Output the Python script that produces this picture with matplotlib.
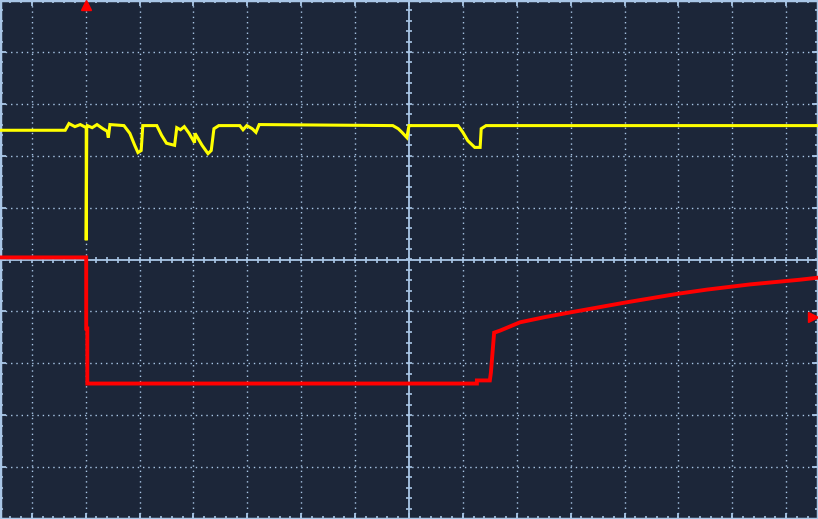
import numpy as np
import matplotlib
matplotlib.use("Agg")
import matplotlib.pyplot as plt

# screen units: divisions (x: time/div, y: volts/div), centre of screen = (0, 0)
ch1_t = [-7.59, -6.38, -6.31, -6.20, -6.10, -5.99, -5.99, -5.98, -5.97, -5.88, -5.79, -5.68,
         -5.60, -5.58, -5.55, -5.29, -5.18, -5.09, -5.03, -4.97, -4.94, -4.68, -4.59, -4.50,
         -4.35, -4.31, -4.24, -4.17, -4.08, -3.98, -3.97, -3.84, -3.73, -3.67, -3.62, -3.53,
         -3.14, -3.08, -3.01, -2.91, -2.84, -2.78, -0.30, -0.20, -0.13, -0.04, 0.00, 0.91,
         1.00, 1.09, 1.22, 1.32, 1.34, 1.43, 7.59]
ch1_v = [2.49, 2.49, 2.62, 2.56, 2.60, 2.54, 0.37, 2.54, 2.58, 2.54, 2.60, 2.52,
         2.47, 2.35, 2.60, 2.58, 2.43, 2.20, 2.06, 2.10, 2.58, 2.58, 2.39, 2.24,
         2.20, 2.54, 2.50, 2.56, 2.43, 2.25, 2.43, 2.20, 2.04, 2.10, 2.52, 2.58,
         2.58, 2.50, 2.58, 2.52, 2.45, 2.60, 2.58, 2.52, 2.45, 2.35, 2.58, 2.58,
         2.45, 2.29, 2.16, 2.16, 2.52, 2.58, 2.58]

ch2_t = [-7.59, -5.99, -5.99, -5.97, -5.97, 1.26, 1.26, 1.50, 1.52, 1.58, 1.69, 2.06,
         2.52, 2.99, 4.01, 4.99, 5.53, 6.33, 7.25, 7.59]
ch2_v = [0.04, 0.04, -1.33, -1.33, -2.39, -2.39, -2.33, -2.33, -2.18, -1.41, -1.37, -1.21,
         -1.11, -1.02, -0.83, -0.66, -0.58, -0.48, -0.39, -0.35]

trig_pos = -5.99
trig_level = -1.10

bg = "#1c2639"
gc = "#a9c6e6"
xmax = 7.59

fig = plt.figure(figsize=(8.18, 5.19), dpi=100)
fig.patch.set_facecolor(bg)
ax = fig.add_axes([0, 0, 1, 1])
ax.set_facecolor(bg)
ax.set_xlim(-xmax, xmax)
ax.set_ylim(-5, 5)
ax.set_xticks([])
ax.set_yticks([])
for s in ax.spines.values():
    s.set_color(gc)
    s.set_linewidth(2.5)

# dotted graticule
for x in range(-7, 8):
    if x != 0:
        ax.axvline(x, color=gc, lw=1.0, ls=(0, (1, 2.8)), zorder=1)
for y in range(-4, 5):
    if y != 0:
        ax.axhline(y, color=gc, lw=1.0, ls=(0, (1, 2.8)), zorder=1)

# centre axes with minor ticks
ax.axhline(0, color=gc, lw=1.3, zorder=1)
ax.axvline(0, color=gc, lw=1.3, zorder=1)
xt = np.arange(-7.6, 7.61, 0.2)
yt = np.arange(-5, 5.01, 0.2)
ax.plot(xt, np.zeros_like(xt), ls="none", marker="|", ms=4.5, mew=1.2, color=gc, zorder=1)
ax.plot(np.zeros_like(yt), yt, ls="none", marker="_", ms=4.5, mew=1.2, color=gc, zorder=1)

# edge ticks
for yy in (5, -5):
    ax.plot(xt, np.full_like(xt, yy), ls="none", marker="|", ms=5, mew=1.2, color=gc, zorder=1)
    ax.plot(np.arange(-7, 8), np.full(15, yy), ls="none", marker="|", ms=8, mew=1.3,
            color=gc, zorder=1)
for xx in (-xmax, xmax):
    ax.plot(np.full_like(yt, xx), yt, ls="none", marker="_", ms=5, mew=1.2, color=gc, zorder=1)
    ax.plot(np.full(9, xx), np.arange(-4, 5), ls="none", marker="_", ms=8, mew=1.3,
            color=gc, zorder=1)

# traces
ax.plot(ch1_t, ch1_v, color="#ffff00", lw=2.2, zorder=3, solid_joinstyle="miter")
ax.plot(ch2_t, ch2_v, color="#ff0000", lw=2.8, zorder=3, solid_joinstyle="miter")

# trigger markers
ax.plot([trig_pos], [4.9], marker="^", ms=7, color="#ff0000", ls="none", zorder=4)
ax.plot([xmax - 0.09], [trig_level], marker=">", ms=7.5, color="#ff0000", ls="none", zorder=4)

fig.savefig("out.png", dpi=100, facecolor=bg)
